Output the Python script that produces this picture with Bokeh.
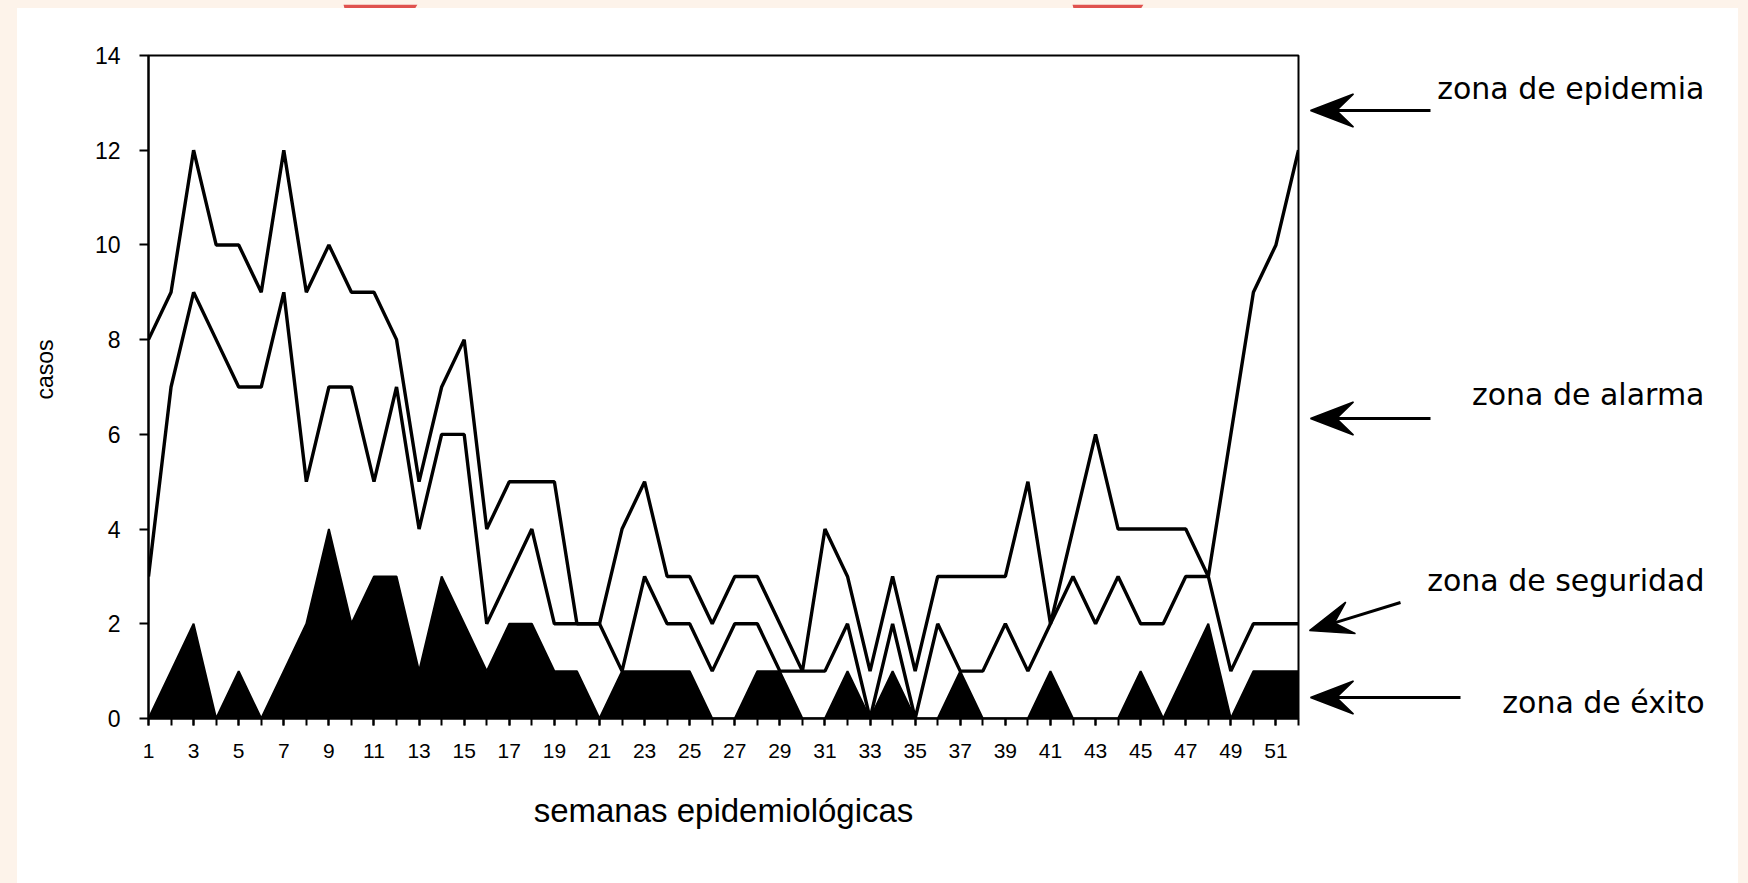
import math
from bokeh.plotting import figure
from bokeh.models import FixedTicker, Spacer, Range1d
from bokeh.core.properties import value
from bokeh.layouts import row, column
from bokeh.embed import file_html
from bokeh.resources import INLINE

# ---------------- data ----------------
weeks = list(range(1, 53))
upper = [8, 9, 12, 10, 10, 9, 12, 9, 10, 9,
         9, 8, 5, 7, 8, 4, 5, 5, 5, 2,
         2, 4, 5, 3, 3, 2, 3, 3, 2, 1,
         4, 3, 1, 3, 1, 3, 3, 3, 3, 5,
         2, 4, 6, 4, 4, 4, 4, 3, 6, 9, 10, 12]
middle = [3, 7, 9, 8, 7, 7, 9, 5, 7, 7,
          5, 7, 4, 6, 6, 2, 3, 4, 2, 2,
          2, 1, 3, 2, 2, 1, 2, 2, 1, 1,
          1, 2, 0, 2, 0, 2, 1, 1, 2, 1,
          2, 3, 2, 3, 2, 2, 3, 3, 1, 2, 2, 2]
lower = [0, 1, 2, 0, 1, 0, 1, 2, 4, 2,
         3, 3, 1, 3, 2, 1, 2, 2, 1, 1,
         0, 1, 1, 1, 1, 0, 0, 1, 1, 0,
         0, 1, 0, 1, 0, 0, 1, 0, 0, 0,
         1, 0, 0, 0, 1, 0, 1, 2, 0, 1, 1, 1]
x_tick_labels = [str(w) for w in range(1, 52, 2)]
y_ticks = [0, 2, 4, 6, 8, 10, 12, 14]
zones = ["zona de epidemia", "zona de alarma", "zona de seguridad", "zona de éxito"]

FONT = "Liberation Sans"
CREAM = "#fdf3ea"
H = 875
TOP, BOTTOM = 47, 165          # main frame borders (frames of a row are aligned)
FRAME_TOP_PAGE = 8 + TOP       # page y of frame top
FRAME_BOT_PAGE = 8 + H - BOTTOM


def panel(width, height, y_range):
    """Blank panel (no axes) used for annotations / page decoration."""
    f = figure(width=width, height=height,
               x_range=Range1d(0, width), y_range=y_range,
               output_backend="svg", toolbar_location=None,
               x_axis_location=None, y_axis_location=None,
               min_border_left=0, min_border_right=0,
               min_border_top=0, min_border_bottom=0)
    f.outline_line_color = None
    f.grid.visible = False
    return f


# ---------------- top strip (page decoration) ----------------
strip = panel(1740, 8, Range1d(8, 0))
strip.background_fill_color = CREAM
strip.border_fill_color = CREAM
strip.patches(xs=[[343, 417, 412, 345], [1072, 1143, 1138, 1074]],
              ys=[[0, 0, 8, 8], [0, 0, 8, 8]],
              fill_color="#e0524f", line_color=None)

# panels addressed in page pixel rows (y grows downward)
page_y = Range1d(FRAME_BOT_PAGE, FRAME_TOP_PAGE)

# ---------------- y-axis title panel ----------------
left = panel(63, H, page_y)
left.background_fill_color = "white"
left.border_fill_color = "white"
left.text(x=[27], y=[369], text=["casos"], angle=math.pi / 2,
          text_align="center", text_baseline="middle",
          text_font=value(FONT), text_font_size="23px", text_color="black")

# ---------------- main chart ----------------
p = figure(width=1220, height=H, x_range=(1, 52), y_range=(0, 14),
           output_backend="svg", toolbar_location=None,
           min_border_left=68, min_border_right=2,
           min_border_top=TOP, min_border_bottom=BOTTOM)
p.background_fill_color = "white"
p.border_fill_color = "white"
p.outline_line_color = "black"
p.outline_line_width = 2
p.grid.visible = False

p.varea(x=weeks, y1=[0] * len(weeks), y2=lower, fill_color="black")
p.line(weeks, lower, line_color="black", line_width=2)
p.line(weeks, middle, line_color="black", line_width=3.4)
p.line(weeks, upper, line_color="black", line_width=3.4)

p.xaxis.ticker = FixedTicker(ticks=list(range(1, 52, 2)), minor_ticks=weeks)
p.xaxis.major_label_overrides = {int(s): s for s in x_tick_labels}
p.xaxis.axis_line_width = 2
p.xaxis.major_tick_out = 7
p.xaxis.major_tick_in = 0
p.xaxis.minor_tick_out = 7
p.xaxis.minor_tick_in = 0
p.xaxis.major_tick_line_width = 2
p.xaxis.minor_tick_line_width = 2
p.xaxis.major_label_text_font = FONT
p.xaxis.major_label_text_font_size = "21px"
p.xaxis.major_label_text_color = "black"
p.xaxis.major_label_standoff = 18
p.xaxis.axis_label = "semanas epidemiológicas"
p.xaxis.axis_label_text_font = FONT
p.xaxis.axis_label_text_font_size = "33px"
p.xaxis.axis_label_text_font_style = "normal"
p.xaxis.axis_label_text_color = "black"
p.xaxis.axis_label_standoff = 31

p.yaxis.ticker = FixedTicker(ticks=y_ticks, minor_ticks=[])
p.yaxis.axis_line_width = 2
p.yaxis.major_tick_out = 9
p.yaxis.major_tick_in = 0
p.yaxis.major_tick_line_width = 2
p.yaxis.major_label_text_font = FONT
p.yaxis.major_label_text_font_size = "23px"
p.yaxis.major_label_text_color = "black"
p.yaxis.major_label_standoff = 19

# ---------------- right-hand annotation panel ----------------
q = panel(438, H, page_y)
q.background_fill_color = "white"
q.border_fill_color = "white"

q.text(x=[404] * len(zones), y=[88, 394, 580, 702], text=zones,
       text_align="right", text_baseline="alphabetic",
       text_font=value("DejaVu Sans"), text_font_size="30px", text_color="black")

# arrows: (tail, tip) -> x in panel pixels, y in page pixels
arrows = [((130, 110), (10, 110)),
          ((130, 418), (10, 418)),
          ((100, 602), (9, 630)),
          ((160, 697), (10, 697))]
HEAD_L, HEAD_W, HEAD_N = 43, 33, 26
shaft_xs, shaft_ys, head_xs, head_ys = [], [], [], []
for (x0, y0), (x1, y1) in arrows:
    dx, dy = x1 - x0, y1 - y0
    d = math.hypot(dx, dy)
    ux, uy = dx / d, dy / d
    nx, ny = -uy, ux
    bx, by = x1 - ux * HEAD_L, y1 - uy * HEAD_L
    mx, my = x1 - ux * HEAD_N, y1 - uy * HEAD_N
    head_xs.append([x1, bx + nx * HEAD_W / 2, mx, bx - nx * HEAD_W / 2])
    head_ys.append([y1, by + ny * HEAD_W / 2, my, by - ny * HEAD_W / 2])
    shaft_xs.append([x0, mx])
    shaft_ys.append([y0, my])
q.multi_line(xs=shaft_xs, ys=shaft_ys, line_color="black", line_width=3)
q.patches(xs=head_xs, ys=head_ys, fill_color="black", line_color="black", line_width=1.5)

charts = row(left, p, q, styles={"background-color": "white"})
layout = column(strip, row(Spacer(width=17, height=H), charts))
html = file_html(layout, INLINE)
html = html.replace("<head>", "<head><style>html,body{background:%s;}</style>" % CREAM, 1)
open("out.html", "w").write(html)
